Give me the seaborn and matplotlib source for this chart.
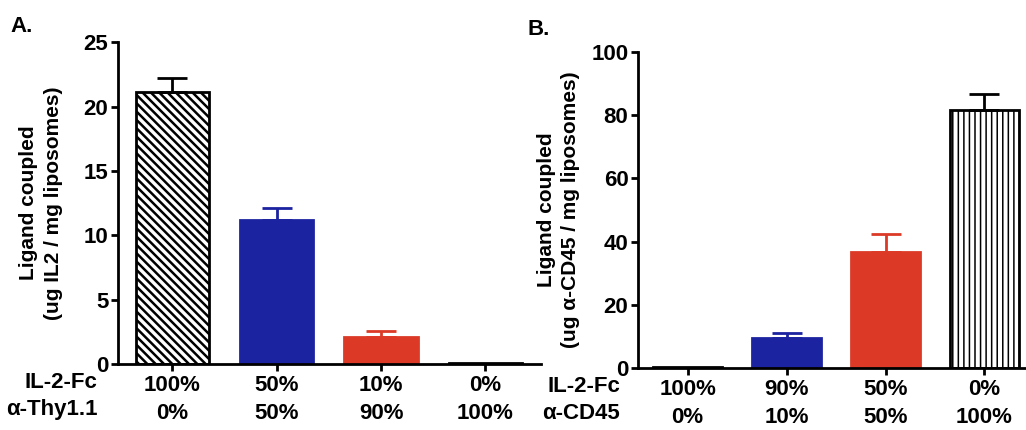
import numpy as np
import pandas as pd
import matplotlib
matplotlib.use("Agg")
import matplotlib.pyplot as plt
import seaborn as sns

# panel A: IL-2-Fc / anti-Thy1.1 mixtures
a_il2 = ["100%", "50%", "10%", "0%"]
a_thy = ["0%", "50%", "90%", "100%"]
a_mean = [21.1, 11.2, 2.1, 0.1]
a_err = [1.1, 0.9, 0.5, 0.0]

# panel B: IL-2-Fc / anti-CD45 mixtures
b_il2 = ["100%", "90%", "50%", "0%"]
b_cd45 = ["0%", "10%", "50%", "100%"]
b_mean = [0.3, 9.5, 36.7, 81.6]
b_err = [0.0, 1.6, 5.6, 5.1]

BLUE = "#1c23a0"
RED = "#dc3a26"

sns.set_theme(style="ticks")
plt.rcParams["font.family"] = ["Liberation Sans", "DejaVu Sans"]
plt.rcParams["font.weight"] = "bold"
plt.rcParams["axes.labelweight"] = "bold"
plt.rcParams["axes.linewidth"] = 2.0
plt.rcParams["text.color"] = "black"
plt.rcParams["axes.labelcolor"] = "black"
plt.rcParams["axes.edgecolor"] = "black"
plt.rcParams["xtick.color"] = "black"
plt.rcParams["ytick.color"] = "black"
plt.rcParams["hatch.color"] = "black"
plt.rcParams["hatch.linewidth"] = 1.6


def draw_panel(ax, top_row, bottom_row, means, errs, colors, hatches, ylim, yticks,
               ylabel, row_names, xlim, name_offset, labelpad):
    df = pd.DataFrame({
        "group": [f"{t}\n{b}" for t, b in zip(top_row, bottom_row)],
        "value": means,
    })
    sns.barplot(data=df, x="group", y="value", hue="group", palette=colors,
                legend=False, width=0.7, ax=ax, errorbar=None, saturation=1)
    for patch, col, h in zip(ax.patches, colors, hatches):
        edge = "black" if col == "white" else col
        patch.set_edgecolor(edge)
        patch.set_linewidth(2.0)
        if h:
            patch.set_hatch(h)
            if hasattr(patch, "set_hatch_linewidth"):
                patch.set_hatch_linewidth(1.8 if "\\" in h else 1.1)
    pos = np.arange(len(means))
    for x, m, e, col in zip(pos, means, errs, colors):
        if e <= 0:
            continue
        c = "black" if col == "white" else col
        ax.errorbar(x, m, yerr=[[0], [e]], fmt="none", ecolor=c,
                    elinewidth=2.0, capsize=11, capthick=2.0)
    ax.set_ylim(*ylim)
    ax.set_yticks(yticks)
    ax.set_xlim(*xlim)
    ax.set_xlabel("")
    ax.set_ylabel(ylabel, fontsize=15, fontweight="bold", labelpad=labelpad,
                  linespacing=1.35)
    sns.despine(ax=ax)
    ax.tick_params(axis="y", labelsize=16, width=2.0, length=5, pad=2)
    ax.tick_params(axis="x", labelsize=16, width=2.0, length=5, pad=3)
    for lab in ax.get_xticklabels():
        lab.set_linespacing(1.4)
        lab.set_fontweight("bold")
    for lab in ax.get_yticklabels():
        lab.set_fontweight("bold")
    ax.annotate(row_names, xy=(0, 0), xycoords="axes fraction",
                xytext=(name_offset, -5.6), textcoords="offset points",
                ha="right", va="top", fontsize=16, fontweight="bold",
                linespacing=1.4)


fig = plt.figure(figsize=(10.26, 4.3), dpi=100)
ax_a = fig.add_axes([0.115, 0.153, 0.412, 0.749])
ax_b = fig.add_axes([0.622, 0.144, 0.378, 0.735])

draw_panel(ax_a, a_il2, a_thy, a_mean, a_err,
           ["white", BLUE, RED, "white"], ["\\\\\\\\", None, None, None],
           (0, 25), [0, 5, 10, 15, 20, 25],
           "Ligand coupled\n(ug IL2 / mg liposomes)",
           "IL-2-Fc\nα-Thy1.1", (-0.52, 3.53), -15, 15)
draw_panel(ax_b, b_il2, b_cd45, b_mean, b_err,
           ["white", BLUE, RED, "white"], [None, None, None, "|||"],
           (0, 100), [0, 20, 40, 60, 80, 100],
           "Ligand coupled\n(ug α-CD45 / mg liposomes)",
           "IL-2-Fc\nα-CD45", (-0.5, 3.42), -13, 8)

fig.text(0.010, 0.925, "A.", fontsize=16, fontweight="bold")
fig.text(0.514, 0.918, "B.", fontsize=16, fontweight="bold")

fig.savefig("out.png", dpi=100)
